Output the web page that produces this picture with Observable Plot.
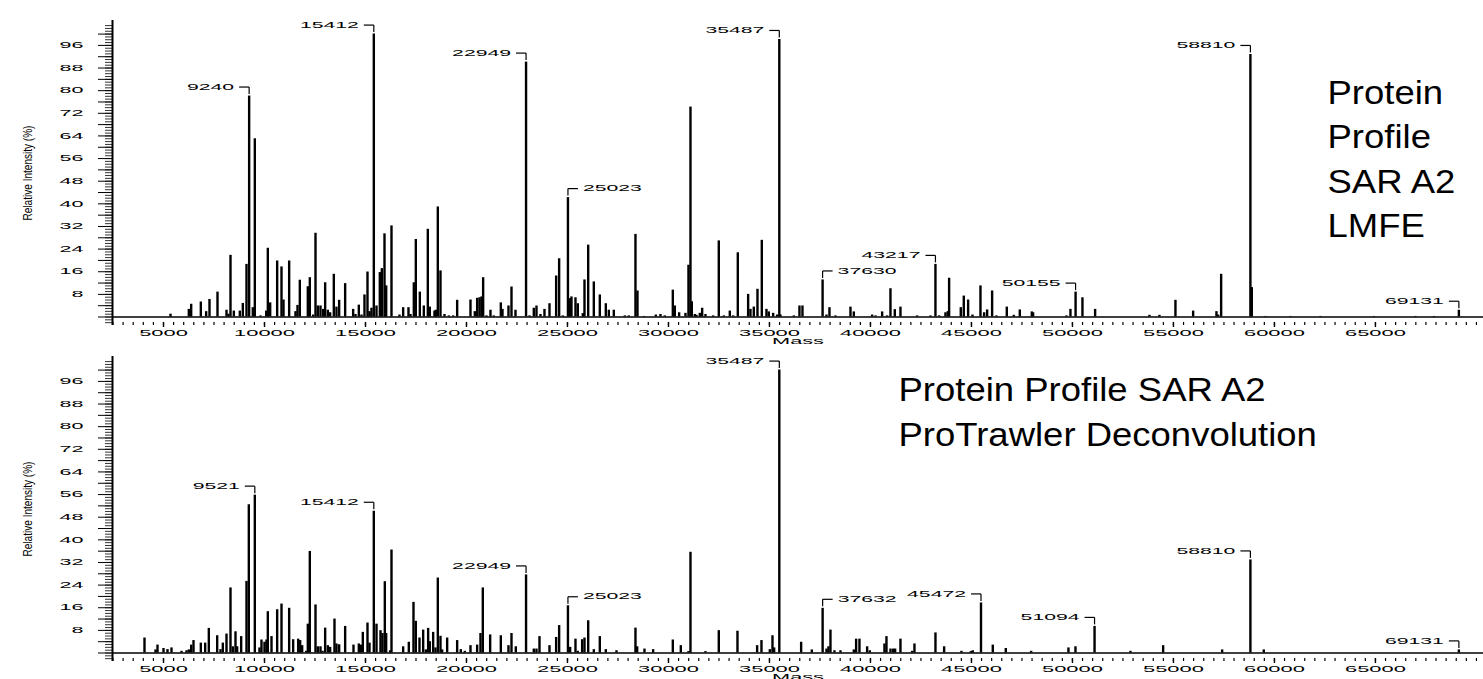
<!DOCTYPE html>
<html><head><meta charset="utf-8">
<script src="https://cdn.jsdelivr.net/npm/d3@7"></script>
<script src="https://cdn.jsdelivr.net/npm/@observablehq/plot@0.6"></script>
<style>
html,body{margin:0;padding:0;background:#fff;overflow:hidden}
#wrap{position:relative;width:1483px;height:679px}
#wrap svg{position:absolute;left:0}
</style></head><body><div id="wrap"></div>
<script>
// ---------- data ----------
const topMass = [5347,6253,6370,6848,7112,7277,7673,8119,8218,8317,8482,8779,8927,9109,9240,9422,9521,9802,10083,10165,10281,10627,10842,10941,11221,11535,11634,11749,12145,12244,12409,12525,12640,12772,12904,13003,13135,13250,13432,13564,13696,13993,14389,14505,14670,14802,14950,15099,15198,15297,15412,15545,15710,15809,15941,16025,16287,16683,16865,17128,17227,17393,17492,17690,17888,18086,18185,18416,18482,18581,18713,18911,19126,19340,19538,20198,20412,20528,20644,20743,20825,20990,21188,21353,21700,21782,22079,22228,22426,22949,23119,23333,23465,23663,23861,24109,24439,24587,24769,25023,25116,25198,25396,25511,25759,25842,26025,26304,26601,26898,27047,27294,27839,28037,28366,28465,28779,29373,29604,29819,30215,30313,30528,30842,30990,31089,31155,31304,31386,31551,31667,31832,32211,32491,32739,33036,33201,33432,33944,34059,34224,34406,34620,34851,34967,35182,35380,35487,35545,36205,36485,36634,37630,37822,37970,38267,39010,39175,40082,40248,40578,40825,40990,41204,41485,42310,42970,43217,43400,43713,43828,43894,44471,44620,44835,45050,45446,45627,45776,46023,46238,46749,47096,47393,47987,48053,49703,49901,50155,50495,51122,53812,54307,55099,55975,57129,57213,57361,58810,58878,59554,60792,62277,64916,66980,67888,69131];
const topIntensity = [1.0,2.7,4.5,5.3,1.9,6.2,8.8,2.4,1.0,21.8,2.1,2.1,4.8,18.6,78.1,3.3,63.0,0.4,2.1,24.3,5.0,19.8,17.7,6.0,19.8,1.9,4.1,13.0,10.7,13.9,0.7,29.6,3.9,3.9,2.7,12.1,2.4,1.5,15.1,3.5,5.9,11.8,2.7,0.9,4.2,0.7,7.8,15.9,1.9,3.1,100,3.9,15.7,17.1,29.4,11.0,32.2,0.7,3.3,3.3,0.9,12.1,27.4,8.8,3.9,31.0,3.5,2.1,2.4,38.9,16.3,0.9,0.4,0.4,5.9,6.0,1.9,6.6,6.8,7.1,13.9,0.4,2.4,0.4,5.0,2.7,3.9,10.6,2.4,90.1,0.4,3.1,3.9,0.9,2.7,4.7,14.5,20.6,0.4,42.2,6.5,7.1,6.8,4.7,1.2,13.1,25.4,12.4,7.8,4.7,2.4,2.4,0.4,0.4,29.2,9.2,0.2,0.7,0.9,0.4,9.5,3.9,1.5,1.3,18.3,74.2,5.4,0.9,0.6,1.3,3.1,0.9,0.4,26.9,0.4,2.1,0.4,22.7,8.0,2.7,3.5,9.8,27.1,2.7,1.8,1.3,0.7,98.1,0.7,0.4,3.9,3.9,13.1,0.7,3.3,0.4,3.5,1.8,0.7,0.4,1.8,0.4,10.0,2.6,3.5,0.4,0.4,18.6,0.4,1.5,1.9,13.7,3.3,7.4,6.0,0.7,11.0,1.5,2.5,9.2,0.4,3.5,0.6,2.5,1.8,1.5,0.4,2.7,8.8,6.8,2.7,0.6,0.6,5.9,2.1,1.9,0.7,15.1,92.8,10.4,0.2,0.2,0.2,0.2,0.2,0.2,2.4];
const topLabels = [9240,15412,22949,25023,35487,37630,43217,50155,58810,69131];
const topLabelsRight = [25023,37630];
const topTitle = ["Protein","Profile","SAR A2","LMFE"];

const botMass = [4059,4604,4703,5000,5198,5396,5891,6139,6254,6370,6485,6848,7063,7244,7657,7822,7937,8119,8317,8432,8564,8647,8845,9109,9224,9521,9752,9851,10000,10099,10165,10347,10627,10842,11221,11419,11667,11766,11865,12063,12145,12244,12525,12640,12772,12871,13003,13135,13250,13465,13564,13696,13993,14406,14670,14769,14868,15099,15198,15412,15545,15743,15842,15957,16023,16221,16287,16865,17145,17376,17492,17673,17855,17987,18102,18185,18350,18465,18581,18713,18795,19043,19538,19719,19917,20198,20528,20693,20808,21172,21700,22079,22228,22442,22949,23333,23465,23614,24109,24439,24587,25023,25132,25396,25511,25726,25842,26025,26304,26601,26898,27426,28366,28449,28812,29241,30215,30611,30990,31089,31832,32491,33416,34389,34604,35017,35149,35231,35487,36568,37096,37632,37822,37921,38020,38218,38515,39175,39290,39455,39835,39967,40693,40792,40990,41122,41221,41485,42063,42178,43218,43647,44505,44967,45065,45472,46056,46700,47954,49802,50149,51094,52871,54490,57411,58810,59472,69131];
const botIntensity = [5.3,1.1,2.8,1.6,1.2,1.8,0.6,0.8,1.1,2.8,4.4,3.5,3.5,8.7,6.1,1.2,3.5,6.7,23.0,2.2,7.5,2.2,5.8,25.3,52.4,55.8,1.8,4.6,3.8,4.6,14.6,5.8,15.3,17.3,15.8,4.7,4.9,4.4,2.6,0.6,10.2,35.9,17.0,2.2,2.2,0.6,8.8,2.6,2.0,12.0,3.2,2.9,9.4,2.8,3.2,2.8,7.3,10.6,3.5,50.1,10.2,7.9,6.9,25.2,6.9,0.8,36.4,2.2,3.8,17.9,11.2,5.3,8.1,1.1,8.7,4.0,7.3,1.8,26.5,5.9,1.1,5.3,4.4,1.2,0.6,2.6,2.8,6.9,23.0,6.4,6.1,2.6,6.9,2.2,27.6,1.4,1.4,5.8,2.6,5.5,9.7,16.7,2.0,4.9,0.6,4.7,5.3,11.4,1.2,5.8,1.2,0.8,8.8,2.2,1.4,1.2,4.6,2.6,0.5,35.6,0.5,7.9,7.7,2.6,4.4,1.2,6.1,1.8,100,3.8,1.1,15.8,1.4,2.2,8.1,0.8,0.8,1.1,4.9,4.9,2.2,0.8,3.2,5.8,1.4,1.4,1.4,4.9,0.6,3.2,7.1,2.2,0.6,0.5,0.8,17.7,2.8,1.6,0.6,1.8,2.2,9.4,0.6,2.6,1.1,32.9,1.1,1.1];
const botLabels = [9521,15412,22949,25023,35487,37632,45472,51094,58810,69131];
const botLabelsRight = [25023,37632];
const botTitle = ["Protein Profile SAR A2","ProTrawler Deconvolution"];

const xMajorTicks = d3.range(5000, 65001, 5000);
const xMinorTicks = d3.range(2500, 70001, 500);
const yLabelTicks = d3.range(8, 97, 8);
const yMajorTicks = d3.range(0, 101, 4);
const yMinorTicks = d3.range(-2, 104, 1);
const yTitle = "Relative Intensity (%)";
const xTitle = "Mass";

// ---------- layout ----------
const W = 1483;
const X_DOMAIN = [2475, 70350];
const Y_DOMAIN = [-3, 104.8];
const FONT = "'Liberation Sans', Arial, sans-serif";

function panel({mass, inten, labels, right, title, titleDx, titleDy, titleStep, height, marginBottom}) {
  const marginTop = 20, marginLeft = 112, marginRight = 0;
  const plotH = height - marginTop - marginBottom;
  const uPerPx = (Y_DOMAIN[1] - Y_DOMAIN[0]) / plotH;
  const mPerPx = (X_DOMAIN[1] - X_DOMAIN[0]) / (W - marginLeft - marginRight);
  const data = mass.map((m, i) => ({m, v: inten[i]}));
  const lab = labels.map(m => {
    const d = data.find(e => e.m === m);
    const r = right.includes(m);
    return {m, v: d.v, r, yb: d.v + 9 * uPerPx, yv: d.v + 2 * uPerPx, xh: m + (r ? 1 : -1) * 10 * mPerPx};
  });
  const marks = [
    Plot.axisY(yMinorTicks, {tickSize: 7, fill: "none", strokeWidth: 1, stroke: "#333"}),
    Plot.axisY(yMajorTicks, {tickSize: 14, fill: "none", strokeWidth: 1}),
    Plot.axisY(yLabelTicks, {tickSize: 0, tickPadding: 29, fontSize: 8.5, tickFormat: d => String(d)}),
    Plot.axisX(xMinorTicks, {tickSize: 3, fill: "none", dy: -3, strokeWidth: 1.2}),
    Plot.axisX(xMajorTicks, {tickSize: 5, tickPadding: 2, dy: -3, strokeWidth: 1.4, fontSize: 8.5, tickFormat: d => String(d)}),
    Plot.ruleX([X_DOMAIN[0]], {stroke: "black", strokeWidth: 2}),
    Plot.ruleY([0], {stroke: "black", strokeWidth: 1.3}),
    Plot.ruleX(data, {x: "m", y1: 0, y2: "v", stroke: "black", strokeWidth: 2.4}),
    Plot.link(lab, {x1: "m", x2: "m", y1: "yv", y2: "yb", stroke: "black", strokeWidth: 1.2}),
    Plot.link(lab, {x1: "m", x2: "xh", y1: "yb", y2: "yb", stroke: "black", strokeWidth: 1.2}),
    Plot.text(lab.filter(d => !d.r), {x: "m", y: "yb", text: d => String(d.m), textAnchor: "end", dx: -15, fontSize: 8.5, ariaDescription: "peak label"}),
    Plot.text(lab.filter(d => d.r), {x: "m", y: "yb", text: d => String(d.m), textAnchor: "start", dx: 15, fontSize: 8.5, ariaDescription: "peak label"}),
    Plot.text([yTitle], {text: d => d, frameAnchor: "left", textAnchor: "middle", rotate: -90, dx: -85, fontSize: 13, ariaDescription: "y title"}),
    Plot.text([xTitle], {text: d => d, frameAnchor: "bottom", dy: 18, fontSize: 8.5, ariaDescription: "x title"}),
    ...title.map((t, i) => Plot.text([t], {text: d => d, frameAnchor: "top-left", textAnchor: "start", lineAnchor: "top", dx: titleDx, dy: titleDy + i * titleStep, fontSize: 33, ariaDescription: "chart title"}))
  ];
  return Plot.plot({
    width: W, height, marginTop, marginBottom, marginLeft, marginRight,
    style: {background: "transparent", fontFamily: FONT, color: "black", overflow: "visible"},
    x: {domain: X_DOMAIN, label: null},
    y: {domain: Y_DOMAIN, label: null},
    marks
  });
}

// horizontal stretch of a text element about its anchor point
function scaleText(t, target) {
  const nat = t.getComputedTextLength();
  if (!nat || !isFinite(nat)) return;
  const s = target / nat;
  const x0 = parseFloat(t.getAttribute("x")) || 0;
  const y0 = parseFloat(t.getAttribute("y")) || 0;
  const T = t.getAttribute("transform") || "";
  t.setAttribute("transform", `${T} translate(${x0},${y0}) scale(${s},1) translate(${-x0},${-y0})`);
}
function stretch(svg, sel, fn) {
  svg.querySelectorAll(sel).forEach(t => scaleText(t, fn(t)));
}

const wrap = document.getElementById("wrap");
const p1 = panel({mass: topMass, inten: topIntensity, labels: topLabels, right: topLabelsRight, title: topTitle, titleDx: 1215, titleDy: 60, titleStep: 44.5, height: 346, marginBottom: 21});
const p2 = panel({mass: botMass, inten: botIntensity, labels: botLabels, right: botLabelsRight, title: botTitle, titleDx: 786, titleDy: 21, titleStep: 44.7, height: 343, marginBottom: 18});
p1.style.top = "0px";
p2.style.top = "336px";
wrap.appendChild(p1);
wrap.appendChild(p2);
for (const svg of [p1, p2]) {
  stretch(svg, 'g[aria-label="x-axis tick label"] text', t => t.textContent.length * 12.2);
  stretch(svg, 'g[aria-label="y-axis tick label"] text', t => t.textContent.length * 12);
  stretch(svg, 'g[aria-description="peak label"] text', t => t.textContent.length * 11.8);
  stretch(svg, 'g[aria-description="x title"] text', t => t.textContent.length * 13);
  stretch(svg, 'g[aria-description="y title"] text', t => 95);
  stretch(svg, 'g[aria-description="chart title"] text', t => t.getComputedTextLength() * 1.106);
}
</script>
</body></html>
